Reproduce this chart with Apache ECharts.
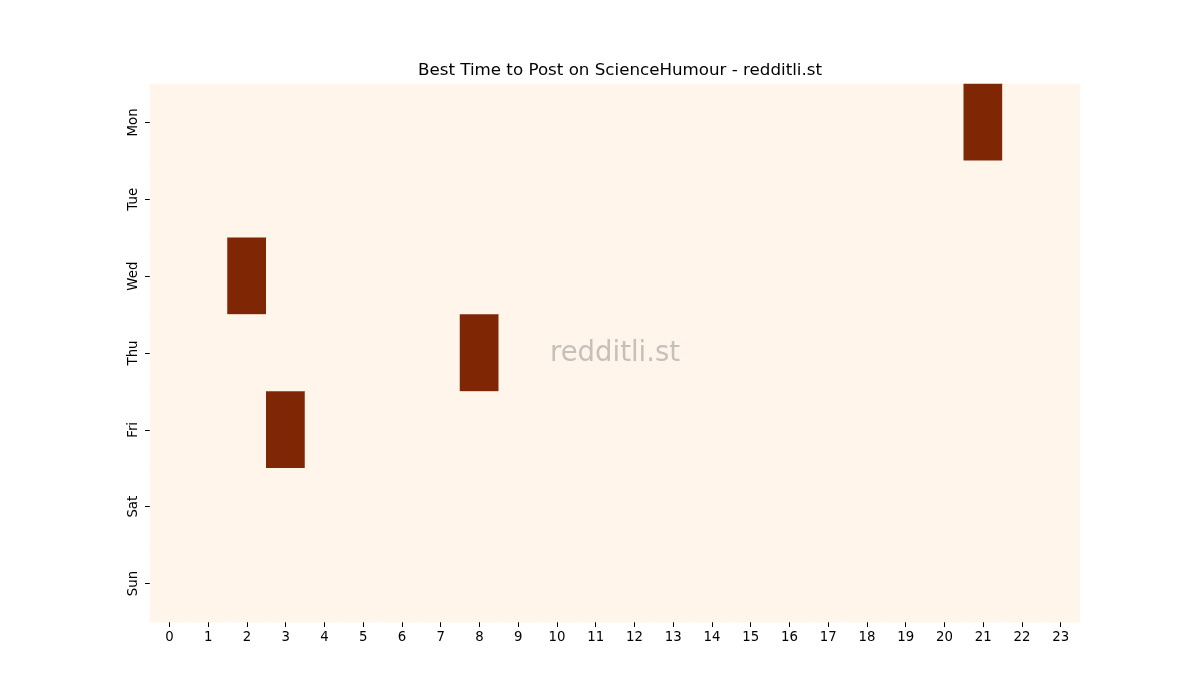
<!DOCTYPE html>
<html>
<head>
<meta charset="utf-8">
<script src="https://cdn.jsdelivr.net/npm/echarts@6/dist/echarts.min.js"></script>
<style>html,body{margin:0;padding:0;background:#fff;}#c{width:1200px;height:700px;}</style>
</head>
<body>
<div id="c"></div>
<script>
const hours = ['0','1','2','3','4','5','6','7','8','9','10','11','12','13','14','15','16','17','18','19','20','21','22','23'];
const days = ['Mon','Tue','Wed','Thu','Fri','Sat','Sun'];
// [hourIndex, dayIndex, value] for the highlighted cells; all others are 0
const hotCells = [[21,0,1],[2,2,1],[8,3,1],[3,4,1]];

const data = [];
for (let d = 0; d < days.length; d++) {
  for (let h = 0; h < hours.length; h++) {
    data.push([h, d, 0]);
  }
}
hotCells.forEach(c => { data[c[1]*hours.length + c[0]][2] = c[2]; });

const font = 'DejaVu Sans';
const chart = echarts.init(document.getElementById('c'));
chart.setOption({
  animation: false,
  title: {
    text: 'Best Time to Post on ScienceHumour - redditli.st',
    left: 615, top: 57, textAlign: 'center',
    textStyle: {fontFamily: font, fontSize: 16.7, fontWeight: 'normal', color: '#000'}
  },
  grid: {left: 150, right: 120, top: 84, bottom: 78},
  xAxis: {
    type: 'category', data: hours,
    axisLine: {show: false},
    axisTick: {show: true, alignWithLabel: true, length: 5, lineStyle: {color: '#000'}},
    axisLabel: {fontFamily: font, fontSize: 13.3, color: '#000', margin: 9},
    splitArea: {show: false}
  },
  yAxis: {
    type: 'category', data: days, inverse: true,
    axisLine: {show: false},
    axisTick: {show: true, alignWithLabel: true, length: 5, lineStyle: {color: '#000'}},
    axisLabel: {fontFamily: font, fontSize: 13.3, color: '#000', rotate: 90, margin: 10},
    splitArea: {show: false}
  },
  visualMap: {
    show: false, min: 0, max: 1, dimension: 2,
    inRange: {color: ['#fff5eb', '#7f2704']}
  },
  series: [{
    type: 'heatmap', data: data,
    itemStyle: {borderWidth: 0}
  }],
  graphic: [{
    type: 'text', left: 550, top: 340,
    style: {text: 'redditli.st', fontFamily: font, fontSize: 27.5, fill: 'rgba(128,128,128,0.45)'},
    z: 100
  }]
});
</script>
</body>
</html>
